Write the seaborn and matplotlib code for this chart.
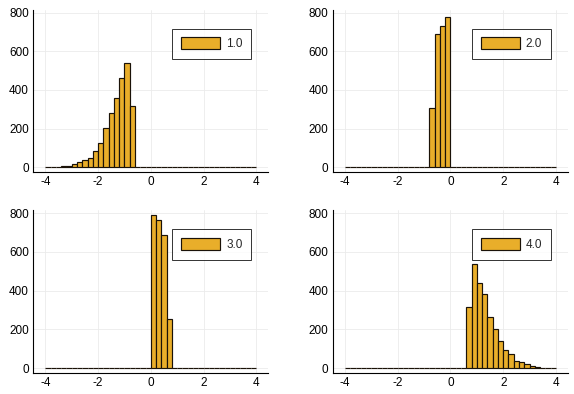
import matplotlib
matplotlib.use("Agg")
import matplotlib.pyplot as plt
import numpy as np
import pandas as pd
import seaborn as sns

# bin edges -4..4 step 0.2, counts
edges = np.round(np.arange(-4.0, 4.0001, 0.2), 2)
centers = (edges[:-1] + edges[1:]) / 2

counts_1 = [0, 1, 3, 5, 9, 19, 29, 39, 49, 87, 126, 203, 279, 356, 463, 541, 318,
            0, 0, 0, 0, 0, 0, 0, 0, 0, 0, 0, 0, 0, 0, 0, 0, 0, 0, 0, 0, 0, 0, 0]
counts_2 = [0] * 16 + [308, 688, 732, 778] + [0] * 20
counts_3 = [0] * 20 + [791, 764, 690, 254] + [0] * 16
counts_4 = [0] * 23 + [314, 537, 439, 385, 263, 200, 141, 92, 73, 39, 29, 19, 10, 6, 3, 2, 1]

labels = ["1.0", "2.0", "3.0", "4.0"]
all_counts = [counts_1, counts_2, counts_3, counts_4]

sns.set_style("white")
plt.rcParams["font.family"] = ["Liberation Sans", "DejaVu Sans"]
plt.rcParams["font.size"] = 8.5
plt.rcParams["axes.unicode_minus"] = False

fig = plt.figure(figsize=(5.74, 3.94), dpi=100)
lefts = [0.0575, 0.5796, 0.0575, 0.5796]
bottoms = [0.5635, 0.5635, 0.054, 0.054]

for i in range(4):
    ax = fig.add_axes([lefts[i], bottoms[i], 0.41, 0.412])
    df = pd.DataFrame({"x": centers, "w": all_counts[i]})
    sns.histplot(data=df, x="x", weights="w", binwidth=0.2, binrange=(-4, 4),
                 ax=ax, color="#E9AE2A", alpha=1, edgecolor="#1a1208",
                 linewidth=0.85, label=labels[i])
    ax.set_xlim(-4.47, 4.46)
    ax.set_ylim(-24, 815)
    ax.set_xticks([-4, -2, 0, 2, 4])
    ax.set_yticks([0, 200, 400, 600, 800])
    ax.set_xlabel("")
    ax.set_ylabel("")
    ax.grid(True, color="#EBEBEB", linewidth=0.6)
    ax.set_axisbelow(True)
    for s in ["top", "right"]:
        ax.spines[s].set_visible(False)
    for s in ["left", "bottom"]:
        ax.spines[s].set_color("black")
        ax.spines[s].set_linewidth(0.8)
    ax.tick_params(direction="in", length=3, width=0.6, labelsize=8.5,
                   pad=3, colors="black")
    leg = ax.legend(loc="upper right", bbox_to_anchor=(0.928, 0.883),
                    frameon=True, fancybox=False, fontsize=8.5,
                    handlelength=3.3, handleheight=1.1, borderpad=0.75,
                    handletextpad=0.5, borderaxespad=0)
    leg.get_frame().set_edgecolor("black")
    leg.get_frame().set_linewidth(0.7)

fig.savefig("out.png", dpi=100)
